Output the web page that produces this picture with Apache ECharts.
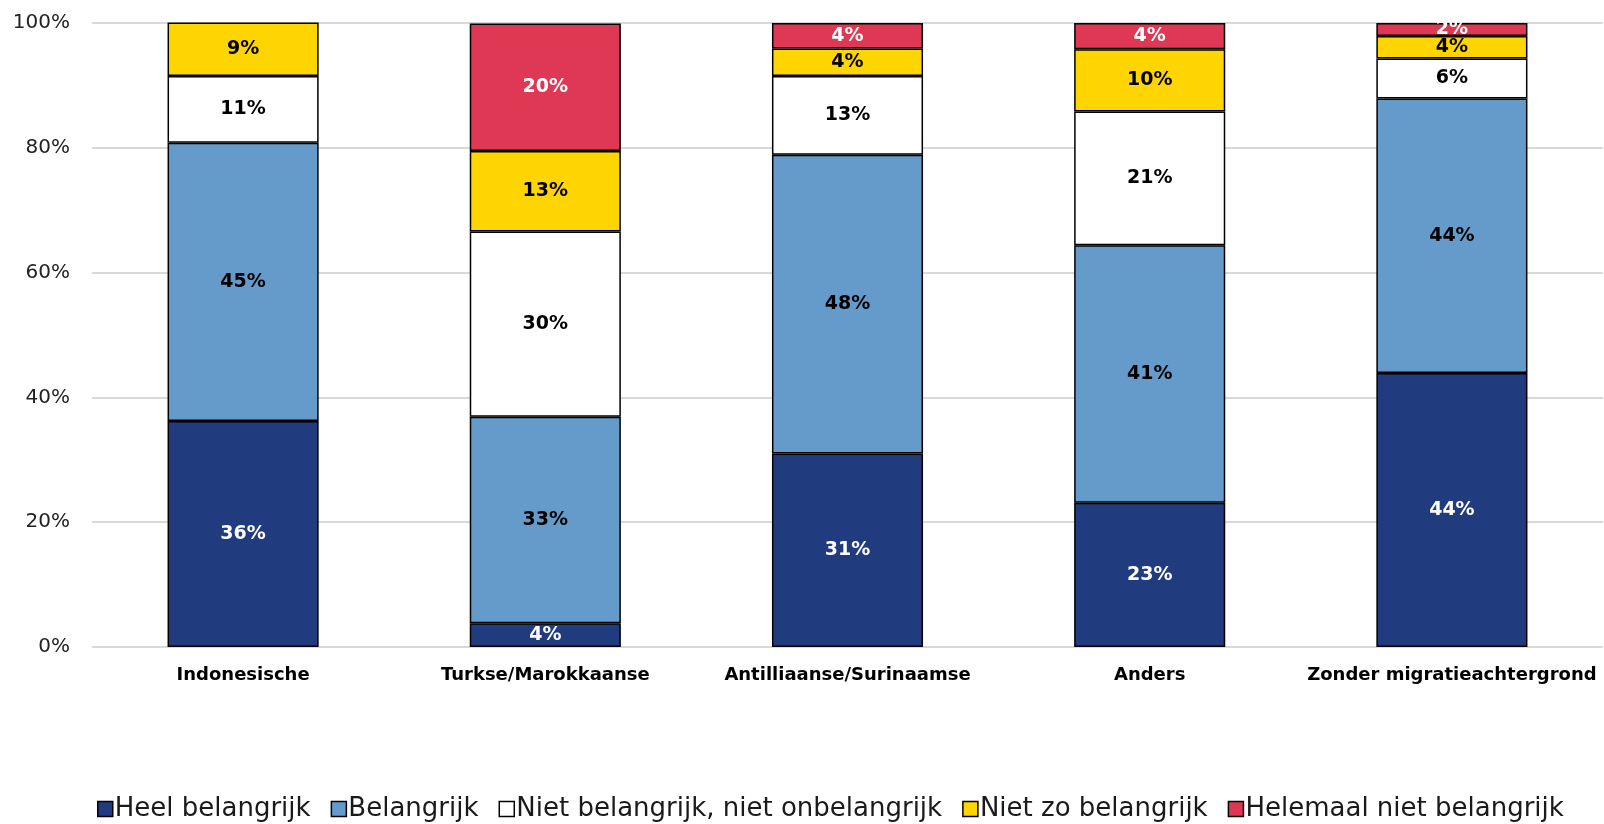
<!DOCTYPE html>
<html><head><meta charset="utf-8">
<script src="https://cdn.jsdelivr.net/npm/echarts@6/dist/echarts.min.js"></script>
<style>html,body{margin:0;padding:0;background:#fff}#c{width:1604px;height:824px}</style>
</head><body><div id="c"></div>
<script>
var categories = ['Indonesische','Turkse/Marokkaanse','Antilliaanse/Surinaamse','Anders','Zonder migratieachtergrond'];
var seriesNames = ['Heel belangrijk','Belangrijk','Niet belangrijk, niet onbelangrijk','Niet zo belangrijk','Helemaal niet belangrijk'];
var heelBelangrijk = [36.2, 3.8, 31.0, 23.1, 43.9];
var belangrijk = [44.6, 33.1, 47.9, 41.3, 44.0];
var neutraal = [10.7, 29.7, 12.6, 21.4, 6.4];
var nietZoBelangrijk = [8.6, 12.9, 4.4, 10.0, 3.6];
var helemaalNiet = [0, 20.4, 4.1, 4.2, 2.1];
var yTicks = [0, 20, 40, 60, 80, 100];

var colors = ['#203B7E','#659BCB','#FFFFFF','#FFD500','#DE3854'];
var labelColors = ['#FFFFFF','#000000','#000000','#000000','#FFFFFF'];
var values = [heelBelangrijk, belangrijk, neutraal, nietZoBelangrijk, helemaalNiet];
var FONT = 'DejaVu Sans';

var series = values.map(function(v, i){
  return {
    name: seriesNames[i], type: 'bar', stack: 'a', barWidth: '50%',
    data: v.map(function(x){ return x === 0 ? null : x; }),
    itemStyle: {color: colors[i], borderColor: '#000', borderWidth: 1.5},
    label: {show: true, position: 'inside', color: labelColors[i], fontFamily: FONT,
      fontWeight: 'bold', fontSize: 19,
      formatter: function(p){ return Math.round(p.value) + '%'; }},
    emphasis: {disabled: true}
  };
});

var chart = echarts.init(document.getElementById('c'), null, {renderer: 'canvas'});
chart.setOption({
  animation: false,
  textStyle: {fontFamily: FONT},
  grid: {left: 92, right: 1, top: 23, bottom: 177, containLabel: false},
  legend: {
    top: 791, left: 92, itemWidth: 15, itemHeight: 15, itemGap: 20,
    icon: 'rect',
    textStyle: {fontSize: 26, color: '#1a1a1a', fontFamily: FONT, padding: [0,0,0,-3]},
    data: seriesNames.map(function(n, i){ return {name: n, itemStyle: {color: colors[i], borderColor: '#000', borderWidth: 1.5}}; })
  },
  xAxis: {
    type: 'category', data: categories,
    axisLine: {show: false}, axisTick: {show: false},
    axisLabel: {color: '#000', fontWeight: 'bold', fontSize: 18, margin: 19, fontFamily: FONT, interval: 0}
  },
  yAxis: {
    type: 'value', min: 0, max: 100, interval: 20,
    axisLine: {show: false}, axisTick: {show: false},
    splitLine: {lineStyle: {color: '#D9D9D9', width: 2}},
    axisLabel: {color: '#222', fontSize: 20, margin: 22, fontFamily: FONT,
      formatter: function(v){ return yTicks.indexOf(v) >= 0 ? v + '%' : ''; }}
  },
  series: series
});
</script>
</body></html>
